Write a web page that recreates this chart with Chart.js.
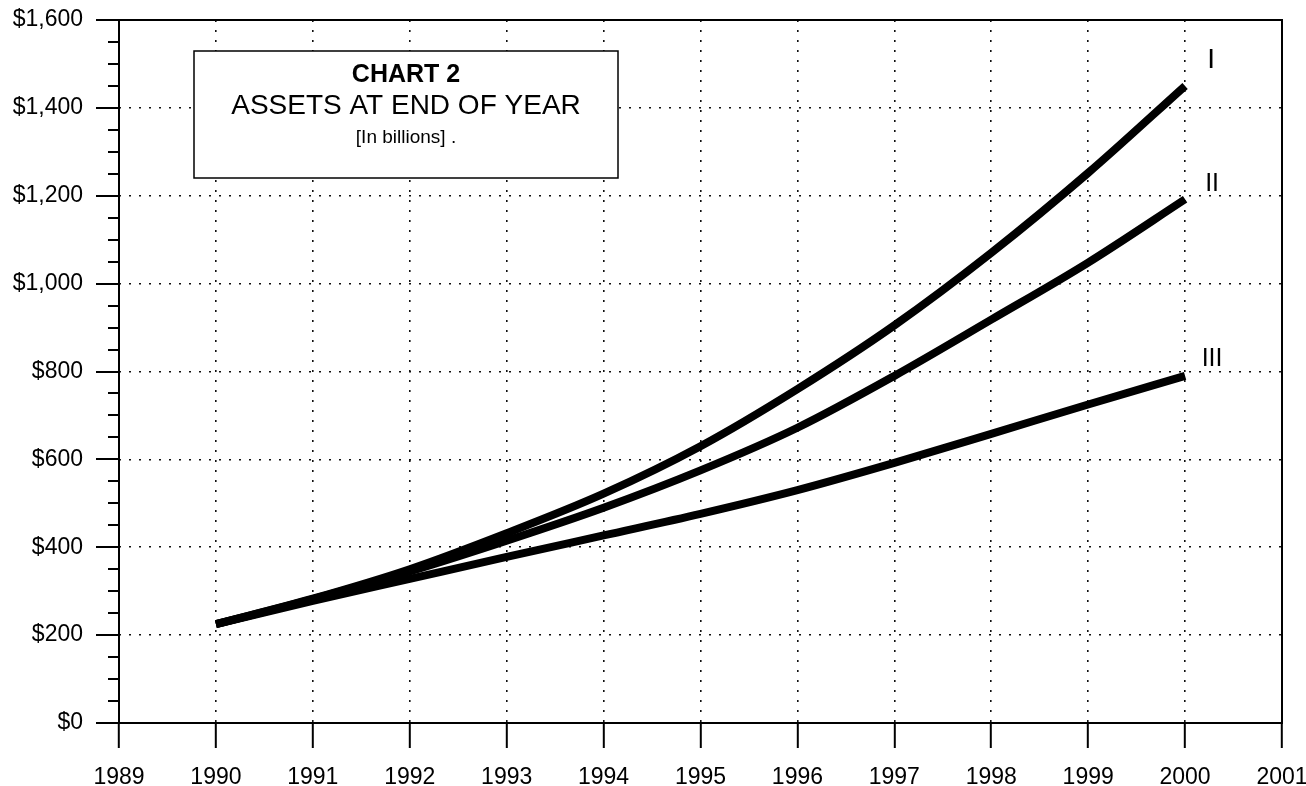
<!DOCTYPE html>
<html>
<head>
<meta charset="utf-8">
<script src="https://cdn.jsdelivr.net/npm/chart.js@4.4.1/dist/chart.umd.min.js"></script>
<style>
html,body{margin:0;padding:0;background:#fff;}
#wrap{width:1306px;height:786px;position:relative;}
canvas{display:block;}
</style>
</head>
<body>
<div id="wrap"><canvas id="c" width="1306" height="786"></canvas></div>
<script>
// ---- data ----
const years = [1990, 1991, 1992, 1993, 1994, 1995, 1996, 1997, 1998, 1999, 2000];
const seriesNames = ['I', 'II', 'III'];
const assetsI   = [225, 283, 350, 432, 522, 630, 760, 905, 1070, 1252, 1450];
const assetsII  = [225, 282, 345, 415, 490, 575, 672, 790, 918, 1048, 1192];
const assetsIII = [225, 278, 328, 378, 427, 476, 530, 592, 658, 725, 790];
const xTickYears = [1989, 1990, 1991, 1992, 1993, 1994, 1995, 1996, 1997, 1998, 1999, 2000, 2001];
const yTickValues = [0, 200, 400, 600, 800, 1000, 1200, 1400, 1600];
const yMinorStep = 50;
const titleLines = ['CHART 2', 'ASSETS AT END OF YEAR', '[In billions] .'];

const FONT = '"Liberation Sans", Arial, Helvetica, sans-serif';
const seriesValues = [assetsI, assetsII, assetsIII];

const decor = {
  id: 'decor',
  afterDraw(chart) {
    const {ctx, chartArea: a, scales: {y}} = chart;
    ctx.save();
    ctx.setLineDash([]);
    ctx.strokeStyle = '#000';
    ctx.lineWidth = 2;
    // plot frame
    ctx.strokeRect(a.left, a.top, a.right - a.left, a.bottom - a.top);
    // y ticks (major + minor)
    const yMin = yTickValues[0], yMax = yTickValues[yTickValues.length - 1];
    for (let v = yMin; v <= yMax; v += yMinorStep) {
      const py = Math.round(y.getPixelForValue(v));
      const len = yTickValues.includes(v) ? 23 : 11;
      ctx.beginPath();
      ctx.moveTo(a.left - len, py);
      ctx.lineTo(a.left, py);
      ctx.stroke();
    }
    // title box
    const bx = 194, by = 51, bw = 424, bh = 127;
    ctx.fillStyle = '#fff';
    ctx.fillRect(bx, by, bw, bh);
    ctx.lineWidth = 1.5;
    ctx.strokeRect(bx, by, bw, bh);
    ctx.fillStyle = '#000';
    ctx.textAlign = 'center';
    ctx.textBaseline = 'middle';
    const cx = bx + bw / 2;
    ctx.font = 'bold 25px ' + FONT;
    ctx.fillText(titleLines[0], cx, 75);
    ctx.font = '28px ' + FONT;
    ctx.fillText(titleLines[1], cx, 106);
    ctx.font = '19px ' + FONT;
    ctx.fillText(titleLines[2], cx, 138);
    // series labels at end of each line
    const labelOffsets = [[26, -26, 28], [27, -15, 25], [27, -17, 25]];
    chart.data.datasets.forEach((ds, i) => {
      const meta = chart.getDatasetMeta(i);
      const pt = meta.data[meta.data.length - 1];
      const [dx, dy, fs] = labelOffsets[i];
      ctx.font = fs + 'px ' + FONT;
      ctx.fillText(ds.label, pt.x + dx, pt.y + dy);
    });
    ctx.restore();
  }
};

new Chart(document.getElementById('c'), {
  type: 'line',
  data: {
    datasets: seriesValues.map((vals, i) => ({
      label: seriesNames[i],
      data: years.map((yr, j) => ({x: yr, y: vals[j]})),
      borderColor: '#000',
      backgroundColor: '#000',
      borderWidth: 8,
      pointRadius: 0,
      cubicInterpolationMode: 'monotone',
      borderJoinStyle: 'round',
      borderCapStyle: 'butt',
      fill: false
    }))
  },
  options: {
    responsive: false,
    animation: false,
    devicePixelRatio: 1,
    layout: {padding: {top: 20, right: 24, left: 0, bottom: 0}},
    plugins: {legend: {display: false}, tooltip: {enabled: false}, title: {display: false}},
    scales: {
      x: {
        type: 'linear',
        min: xTickYears[0],
        max: xTickYears[xTickYears.length - 1],
        afterBuildTicks: (s) => { s.ticks = xTickYears.map(v => ({value: v})); },
        afterFit: (s) => { s.height = 63; s.paddingLeft = 0; s.paddingRight = 0; },
        ticks: {
          callback: (v) => String(v),
          font: {family: FONT, size: 23},
          color: '#000',
          padding: 16,
          maxRotation: 0,
          autoSkip: false
        },
        grid: {
          color: (c) => (c.tick && (c.tick.value === xTickYears[0] || c.tick.value === xTickYears[xTickYears.length - 1])) ? 'rgba(0,0,0,0)' : '#111',
          lineWidth: 1.6,
          drawTicks: true,
          tickLength: 25,
          tickColor: '#000',
          tickWidth: 2
        },
        border: {display: false, dash: [2, 8]}
      },
      y: {
        type: 'linear',
        min: yTickValues[0],
        max: yTickValues[yTickValues.length - 1],
        afterBuildTicks: (s) => { s.ticks = yTickValues.map(v => ({value: v})); },
        afterFit: (s) => { s.width = 119; s.paddingTop = 0; s.paddingBottom = 0; },
        ticks: {
          callback: (v) => '$' + v.toLocaleString('en-US'),
          font: {family: FONT, size: 23},
          color: '#000',
          padding: 36,
          autoSkip: false
        },
        grid: {
          color: (c) => (c.tick && (c.tick.value === yTickValues[0] || c.tick.value === yTickValues[yTickValues.length - 1])) ? 'rgba(0,0,0,0)' : '#111',
          lineWidth: 1.6,
          drawTicks: false
        },
        border: {display: false, dash: [2, 8]}
      }
    }
  },
  plugins: [decor]
});
</script>
</body>
</html>
